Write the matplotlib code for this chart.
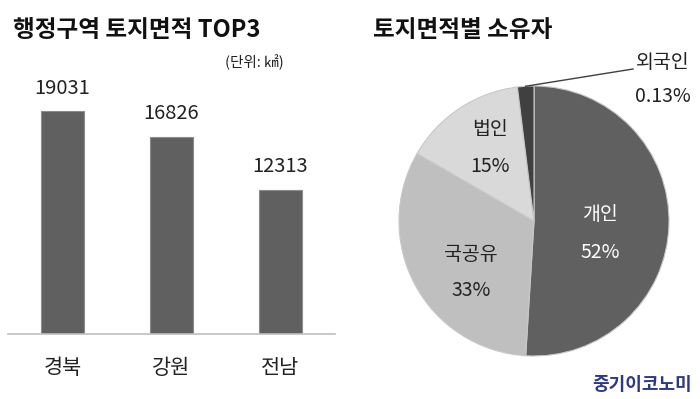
import matplotlib
matplotlib.use("Agg")
import matplotlib.pyplot as plt
from matplotlib import font_manager
import numpy as np

plt.rcParams['font.family'] = ['Noto Sans CJK KR', 'DejaVu Sans']

# ---- data ----
regions = ['경북', '강원', '전남']
areas = [19031, 16826, 12313]

owners = ['개인', '국공유', '법인', '외국인']
owner_slice_values = [52, 33, 15, 2]          # slice sizes as drawn
owner_labels_pct = ['52%', '33%', '15%', '0.13%']
owner_colors = ['#606060', '#bfbfbf', '#d9d9d9', '#404040']

title_left = '행정구역 토지면적 TOP3'
unit_text = '(단위: ㎢)'
title_right = '토지면적별 소유자'
watermark = '중기이코노미'

W, H = 700, 399
fig = plt.figure(figsize=(W / 100, H / 100), dpi=100)
fig.patch.set_facecolor('white')

LW = 'light'

def px_axes(x0, y0, x1, y1):
    return fig.add_axes([x0 / W, 1 - y1 / H, (x1 - x0) / W, (y1 - y0) / H])

# ---- bar chart ----
axb = px_axes(8, 60, 335, 334)
x = np.arange(len(regions))
axb.bar(x, areas, width=0.39, color='#606060', edgecolor='#8c8c8c', linewidth=0.8)
axb.set_xlim(-0.5, 2.5)
axb.set_ylim(0, 19031 * 274 / 223)
for s in ['top', 'right', 'left']:
    axb.spines[s].set_visible(False)
axb.spines['bottom'].set_color('#bfbfbf')
axb.spines['bottom'].set_linewidth(1.2)
axb.set_yticks([])
axb.set_xticks([])
for xi, v, name in zip(x, areas, regions):
    axb.annotate(f'{v}', (xi, v), xytext=(0, 16.5), textcoords='offset points',
                 ha='center', va='center', fontsize=14.5, color='#222222', fontweight=LW)
    axb.annotate(name, (xi, 0), xytext=(0, -24.5), textcoords='offset points',
                 ha='center', va='center', fontsize=15, color='#222222', fontweight=LW)

fig.text(13 / W, 1 - 30 / H, title_left, fontsize=17, fontweight='bold',
         ha='left', va='center', color='#111111')
fig.text(254 / W, 1 - 62 / H, unit_text, fontsize=10.5, ha='center', va='center',
         color='#222222', fontweight=LW)

# ---- pie chart ----
cx, cy, r = 534, 221, 135
axp = px_axes(cx - r, cy - r, cx + r, cy + r)
wedges, _ = axp.pie(owner_slice_values, colors=owner_colors, startangle=90,
                    counterclock=False, radius=1,
                    wedgeprops=dict(edgecolor='#c8c8c8', linewidth=0.8))
axp.set_xlim(-1, 1)
axp.set_ylim(-1, 1)
axp.set_aspect('equal')
axp.axis('off')

def d(px, py):
    return ((px - cx) / r, (cy - py) / r)

label_centers = {'개인': (600, 215, 252), '국공유': (471, 254, 291),
                 '법인': (490, 130, 167), '외국인': (663, 63, 97)}
text_colors = {'개인': 'white', '국공유': '#222222', '법인': '#222222', '외국인': '#222222'}
for name, pct in zip(owners, owner_labels_pct):
    lx, ly1, ly2 = label_centers[name]
    axp.text(*d(lx, ly1), name, ha='center', va='center', fontsize=14,
             color=text_colors[name], fontweight=LW)
    axp.text(*d(lx, ly2), pct, ha='center', va='center', fontsize=14,
             color=text_colors[name], fontweight=LW)

# leader line for 외국인
w = wedges[3]
mid = np.deg2rad((w.theta1 + w.theta2) / 2)
p0 = (np.cos(mid), np.sin(mid))
p1 = d(633, 69)
axp.plot([p0[0], p1[0]], [p0[1], p1[1]], color='#404040', linewidth=1, clip_on=False)

fig.text(373 / W, 1 - 30 / H, title_right, fontsize=17, fontweight='bold',
         ha='left', va='center', color='#111111')

fig.text(692 / W, 1 - 385 / H, watermark, fontsize=13, fontweight='bold',
         ha='right', va='center', color='#2b3a86')

fig.savefig('out.png', dpi=100, facecolor='white')
